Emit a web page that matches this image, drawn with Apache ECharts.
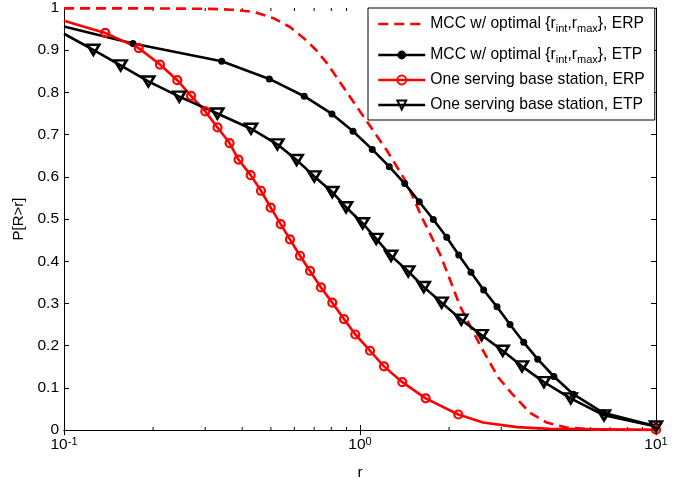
<!DOCTYPE html>
<html>
<head>
<meta charset="utf-8">
<script src="https://cdn.jsdelivr.net/npm/echarts@6/dist/echarts.min.js"></script>
<style>
  html, body { margin: 0; padding: 0; background: #fff; }
  #main { width: 693px; height: 486px; }
</style>
</head>
<body>
<div id="main"></div>
<script>
// series names (legend text), "_xxx" becomes a subscript
var names = [
  'MCC w/ optimal {r_int,r_max}, ERP',
  'MCC w/ optimal {r_int,r_max}, ETP',
  'One serving base station, ERP',
  'One serving base station, ETP'
];

// MCC, ERP (dashed, no markers)
var mccErpR = [0.1, 0.2, 0.3113, 0.3685, 0.4359, 0.5095, 0.58, 0.652, 0.705, 0.772, 0.902, 1.053, 1.231, 1.438, 1.616, 1.863, 2.014, 2.177, 2.384, 2.577, 2.931, 3.254, 3.752, 4.273, 4.99, 6.47, 10];
var mccErpP = [0.999, 0.999, 0.998, 0.996, 0.991, 0.976, 0.955, 0.926, 0.903, 0.870, 0.801, 0.732, 0.663, 0.586, 0.505, 0.417, 0.356, 0.294, 0.240, 0.194, 0.125, 0.087, 0.041, 0.018, 0.006, 0.001, 0];

// MCC, ETP (black dots)
var mccEtpR = [0.1, 0.171, 0.341, 0.494, 0.648, 0.804, 0.947, 1.100, 1.256, 1.416, 1.586, 1.769, 1.963, 2.155, 2.371, 2.617, 2.903, 3.212, 3.573, 3.984, 4.52, 5.255, 6.637, 10];
var mccEtpP = [0.956, 0.916, 0.874, 0.832, 0.791, 0.749, 0.708, 0.665, 0.624, 0.584, 0.541, 0.499, 0.457, 0.415, 0.374, 0.332, 0.292, 0.250, 0.208, 0.168, 0.127, 0.085, 0.041, 0.009];

// one serving BS, ERP (red circles)
var oneErpR = [0.1, 0.1378, 0.1788, 0.2110, 0.2413, 0.2686, 0.3002, 0.330, 0.3626, 0.3886, 0.4272, 0.4629, 0.4993, 0.5396, 0.580, 0.627, 0.678, 0.738, 0.806, 0.883, 0.964, 1.081, 1.205, 1.390, 1.667, 2.148, 2.604, 3.39, 4.37, 10];
var oneErpP = [0.970, 0.941, 0.905, 0.866, 0.829, 0.792, 0.755, 0.717, 0.680, 0.641, 0.604, 0.567, 0.527, 0.488, 0.452, 0.413, 0.377, 0.338, 0.302, 0.263, 0.2265, 0.188, 0.151, 0.1136, 0.0753, 0.037, 0.018, 0.007, 0.003, 0.001];

// one serving BS, ETP (black triangles)
var oneEtpR = [0.1, 0.1256, 0.1554, 0.1927, 0.2452, 0.3296, 0.4284, 0.5257, 0.611, 0.701, 0.806, 0.897, 1.021, 1.135, 1.273, 1.456, 1.642, 1.888, 2.199, 2.576, 3.034, 3.527, 4.184, 5.150, 6.673, 10];
var oneEtpP = [0.939, 0.901, 0.864, 0.826, 0.790, 0.750, 0.714, 0.677, 0.640, 0.601, 0.564, 0.528, 0.490, 0.453, 0.413, 0.376, 0.339, 0.302, 0.2615, 0.225, 0.188, 0.151, 0.1136, 0.0753, 0.035, 0.0085];

// minor ticks of the log axis
var minorTicks = [0.2, 0.3, 0.4, 0.5, 0.6, 0.7, 0.8, 0.9, 2, 3, 4, 5, 6, 7, 8, 9];

var FONT = '"Liberation Sans", Arial, sans-serif';

// points without a marker are listed in "bare"
function points(r, p, bare) {
  return r.map(function (x, i) {
    if (bare.indexOf(i) >= 0) return { value: [x, p[i]], symbol: 'none' };
    return [x, p[i]];
  });
}

var chart = echarts.init(document.getElementById('main'));

var option = {
  animation: false,
  grid: { left: 64, right: 37, top: 6, bottom: 45 },
  legend: {
    orient: 'vertical',
    left: 368,
    top: 8,
    padding: [0, 10, 5, 9],
    itemGap: 5,
    itemWidth: 47,
    itemHeight: 11,
    borderColor: '#000',
    borderWidth: 1,
    backgroundColor: '#fff',
    lineStyle: { width: 2.5 },
    data: [
      { name: names[0], itemStyle: { opacity: 0 } },
      { name: names[1] },
      { name: names[2] },
      { name: names[3] }
    ],
    formatter: function (name) {
      return name.replace(/_(int|max)/g, '{s|$1}');
    },
    textStyle: {
      fontFamily: FONT,
      fontSize: 15.7,
      lineHeight: 20,
      color: '#000',
      rich: {
        s: { fontFamily: FONT, fontSize: 11, lineHeight: 11, verticalAlign: 'bottom', padding: [15, 0, 0, 0], color: '#000' }
      }
    }
  },
  xAxis: [
    {
      type: 'log', logBase: 10, min: 0.1, max: 10,
      position: 'bottom',
      name: 'r', nameLocation: 'middle', nameGap: 27,
      nameTextStyle: { fontFamily: FONT, fontSize: 15.5, color: '#000' },
      axisLine: { lineStyle: { color: '#000', width: 1 } },
      axisTick: { inside: true, length: 5, lineStyle: { color: '#000' } },
      splitLine: { show: false },
      axisLabel: {
        margin: 6,
        fontFamily: FONT, fontSize: 15.5, lineHeight: 18, color: '#000',
        formatter: function (v) {
          var e = Math.round(Math.log(v) / Math.LN10);
          return '10{sup|' + e + '}';
        },
        rich: {
          sup: { fontFamily: FONT, fontSize: 11, lineHeight: 11, verticalAlign: 'top', padding: [0, 0, 13, 0], color: '#000' }
        }
      }
    },
    {
      type: 'log', logBase: 10, min: 0.1, max: 10,
      position: 'top',
      axisLine: { lineStyle: { color: '#000', width: 1 } },
      axisTick: { inside: true, length: 5, lineStyle: { color: '#000' } },
      axisLabel: { show: false },
      splitLine: { show: false }
    }
  ],
  yAxis: [
    {
      type: 'value', min: 0, max: 1, interval: 0.1,
      position: 'left',
      name: 'P[R>r]', nameLocation: 'middle', nameGap: 36,
      nameTextStyle: { fontFamily: FONT, fontSize: 15, color: '#000' },
      axisLine: { show: true, lineStyle: { color: '#000', width: 1 } },
      axisTick: { show: true, inside: true, length: 5, lineStyle: { color: '#000' } },
      splitLine: { show: false },
      axisLabel: { margin: 5, fontFamily: FONT, fontSize: 15.5, color: '#000' }
    },
    {
      type: 'value', min: 0, max: 1, interval: 0.1,
      position: 'right',
      axisLine: { show: true, lineStyle: { color: '#000', width: 1 } },
      axisTick: { show: true, inside: true, length: 5, lineStyle: { color: '#000' } },
      axisLabel: { show: false },
      splitLine: { show: false }
    }
  ],
  series: [
    {
      name: names[0],
      type: 'line',
      symbol: 'none',
      data: points(mccErpR, mccErpP, []),
      lineStyle: { color: '#ff0000', width: 2.6, type: [10, 6] },
      itemStyle: { color: '#ff0000' }
    },
    {
      name: names[1],
      type: 'line',
      symbol: 'circle',
      symbolSize: 7,
      showAllSymbol: true,
      data: points(mccEtpR, mccEtpP, [0]),
      lineStyle: { color: '#000', width: 2.6 },
      itemStyle: { color: '#000', borderWidth: 0 }
    },
    {
      name: names[2],
      type: 'line',
      symbol: 'circle',
      symbolSize: 8,
      showAllSymbol: true,
      data: points(oneErpR, oneErpP, [0, 26, 27, 28]),
      lineStyle: { color: '#ff0000', width: 2.6 },
      itemStyle: { color: 'rgba(255,255,255,0)', borderColor: '#ff0000', borderWidth: 2.2 }
    },
    {
      name: names[3],
      type: 'line',
      symbol: 'triangle',
      symbolRotate: 180,
      symbolSize: [12, 10],
      showAllSymbol: true,
      data: points(oneEtpR, oneEtpP, [0]),
      lineStyle: { color: '#000', width: 2.6 },
      itemStyle: { color: 'rgba(255,255,255,0)', borderColor: '#000', borderWidth: 2.6 }
    },
    {
      name: 'minor ticks',
      type: 'custom',
      silent: true,
      clip: false,
      data: minorTicks.map(function (v) { return [v, 0]; }),
      renderItem: function (params, api) {
        var x = api.coord([api.value(0), 0])[0];
        var cs = params.coordSys;
        var yTop = cs.y, yBot = cs.y + cs.height;
        return {
          type: 'group',
          children: [
            { type: 'line', shape: { x1: x, y1: yBot, x2: x, y2: yBot - 3 }, style: { stroke: '#000', lineWidth: 1 } },
            { type: 'line', shape: { x1: x, y1: yTop, x2: x, y2: yTop + 3 }, style: { stroke: '#000', lineWidth: 1 } }
          ]
        };
      }
    }
  ]
};

chart.setOption(option);
</script>
</body>
</html>
